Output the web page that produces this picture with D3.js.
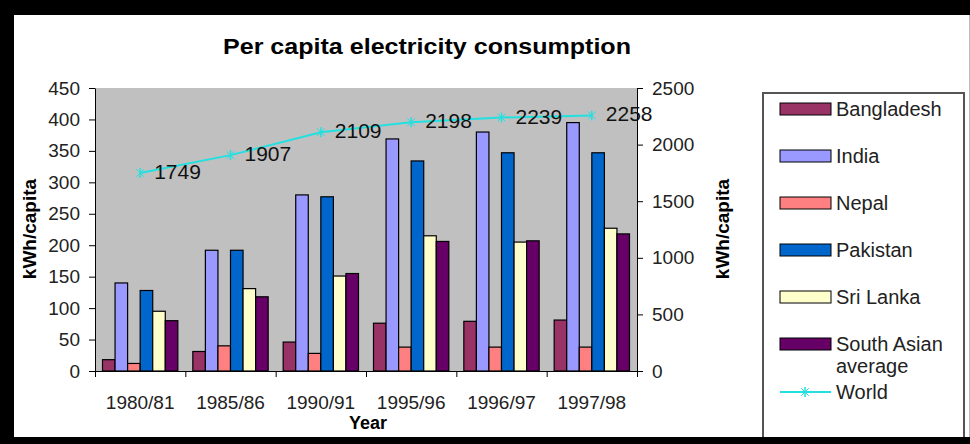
<!DOCTYPE html>
<html>
<head>
<meta charset="utf-8">
<script src="https://cdn.jsdelivr.net/npm/d3@7"></script>
<style>
  body { margin: 0; background: #fff; }
  svg { display: block; font-family: "Liberation Sans", Arial, sans-serif; }
</style>
</head>
<body>
<div class="chart"></div>
<script>
// data
const categories = ["1980/81", "1985/86", "1990/91", "1995/96", "1996/97", "1997/98"];
const seriesNames = ["Bangladesh", "India", "Nepal", "Pakistan", "Sri Lanka", "South Asian average"];
const bangladesh = [18, 31, 46, 76, 79, 81];
const india = [140, 192, 280, 369, 380, 395];
const nepal = [12, 40, 28, 38, 38, 38];
const pakistan = [128, 192, 277, 334, 347, 347];
const sriLanka = [95, 131, 151, 215, 205, 227];
const southAsian = [80, 118, 155, 206, 207, 218];
const world = [1749, 1907, 2109, 2198, 2239, 2258];
const leftTicks = [0, 50, 100, 150, 200, 250, 300, 350, 400, 450];
const rightTicks = [0, 500, 1000, 1500, 2000, 2500];

const seriesValues = [bangladesh, india, nepal, pakistan, sriLanka, southAsian];
const colors = ["#993366", "#9999FF", "#FF8080", "#0066CC", "#FFFFCC", "#660066"];
const worldColor = "#22E0E0";

const W = 970, H = 444;
const plot = { left: 95, right: 637, top: 88, bottom: 371 };
const font = 19;

const svg = d3.select(".chart")
    .append("svg")
    .attr("width", W)
    .attr("height", H);

// frame
svg.append("rect").attr("x", 0).attr("y", 0).attr("width", W).attr("height", H).attr("fill", "#fff");
svg.append("rect").attr("x", 0).attr("y", 0).attr("width", W).attr("height", 15).attr("fill", "#000");
svg.append("rect").attr("x", 0).attr("y", 0).attr("width", 14).attr("height", H).attr("fill", "#000");
svg.append("line").attr("x1", 969.5).attr("x2", 969.5).attr("y1", 15).attr("y2", 437)
    .attr("stroke", "#bbb");

// title
svg.append("text")
    .attr("x", 427).attr("y", 54)
    .attr("text-anchor", "middle")
    .attr("textLength", 408)
    .attr("lengthAdjust", "spacingAndGlyphs")
    .style("font-size", "22px")
    .style("font-weight", "bold")
    .text("Per capita electricity consumption");

// scales
const x0 = d3.scaleBand().domain(categories).range([plot.left, plot.right]);
const x1 = d3.scaleBand().domain(seriesNames).range([7.5, x0.bandwidth() - 7.5]);
const yLeft = d3.scaleLinear().domain([0, 450]).range([plot.bottom, plot.top]);
const yRight = d3.scaleLinear().domain([0, 2500]).range([plot.bottom, plot.top]);
const xEdge = d3.scaleLinear().domain([0, categories.length]).range([plot.left, plot.right]);

// plot background
svg.append("rect")
    .attr("x", plot.left).attr("y", plot.top)
    .attr("width", plot.right - plot.left).attr("height", plot.bottom - plot.top)
    .attr("fill", "#C0C0C0");

// bars
const barData = [];
seriesValues.forEach((vals, si) => {
    vals.forEach((v, ci) => barData.push({ s: seriesNames[si], c: categories[ci], v, color: colors[si] }));
});

svg.append("g")
    .selectAll("rect")
    .data(barData)
    .join("rect")
    .attr("x", d => x0(d.c) + x1(d.s))
    .attr("y", d => yLeft(d.v))
    .attr("width", x1.bandwidth())
    .attr("height", d => yLeft(0) - yLeft(d.v))
    .attr("fill", d => d.color)
    .attr("stroke", "#000")
    .attr("stroke-width", 1.2);

// axes
function styleAxis(g) {
    g.selectAll("path, line").attr("stroke", "#000");
    g.selectAll("text").style("font-size", font + "px").attr("fill", "#222");
}

svg.append("g")
    .attr("transform", `translate(${plot.left},0)`)
    .call(d3.axisLeft(yLeft).tickValues(leftTicks).tickSize(6).tickSizeOuter(0).tickPadding(9))
    .call(styleAxis);

svg.append("g")
    .attr("transform", `translate(${plot.right},0)`)
    .call(d3.axisRight(yRight).tickValues(rightTicks).tickFormat(d3.format("d"))
        .tickSize(6).tickSizeOuter(0).tickPadding(9))
    .call(styleAxis);

svg.append("g")
    .attr("transform", `translate(0,${plot.bottom})`)
    .call(d3.axisBottom(xEdge).ticks(categories.length).tickSize(6).tickSizeOuter(0).tickFormat(""))
    .call(styleAxis);

svg.append("g")
    .attr("transform", `translate(0,${plot.bottom})`)
    .call(d3.axisBottom(x0).tickSize(0).tickPadding(25))
    .call(g => g.select(".domain").remove())
    .call(styleAxis);

// axis titles
svg.append("text")
    .attr("transform", `translate(36,229) rotate(-90)`)
    .attr("text-anchor", "middle")
    .style("font-size", "19px")
    .style("font-weight", "bold")
    .text("kWh/capita");

svg.append("text")
    .attr("transform", `translate(729,229) rotate(-90)`)
    .attr("text-anchor", "middle")
    .style("font-size", "19px")
    .style("font-weight", "bold")
    .text("kWh/capita");

svg.append("text")
    .attr("x", 368).attr("y", 429)
    .attr("text-anchor", "middle")
    .style("font-size", "18px")
    .style("font-weight", "bold")
    .text("Year");

// world line
const worldPts = categories.map((c, i) => ({ c, v: world[i] }));
const line = d3.line()
    .x(d => x0(d.c) + x0.bandwidth() / 2)
    .y(d => yRight(d.v));

svg.append("path")
    .datum(worldPts)
    .attr("d", line)
    .attr("fill", "none")
    .attr("stroke", worldColor)
    .attr("stroke-width", 2);

const marker = d3.symbol().type(d3.symbolTimes).size(40);
const mk = svg.append("g")
    .selectAll("g")
    .data(worldPts)
    .join("g")
    .attr("transform", d => `translate(${x0(d.c) + x0.bandwidth() / 2},${yRight(d.v)})`);
mk.append("path").attr("d", marker).attr("fill", worldColor).attr("stroke", worldColor);
mk.append("line").attr("y1", -5).attr("y2", 5).attr("stroke", worldColor).attr("stroke-width", 1.5);

svg.append("g")
    .selectAll("text")
    .data(worldPts)
    .join("text")
    .attr("x", d => x0(d.c) + x0.bandwidth() / 2 + 14)
    .attr("y", d => yRight(d.v) + 6)
    .style("font-size", "21px")
    .attr("fill", "#111")
    .text(d => d.v);

// legend
const legend = svg.append("g");
legend.append("rect")
    .attr("x", 763).attr("y", 93)
    .attr("width", 201).attr("height", 360)
    .attr("fill", "#fff")
    .attr("stroke", "#555")
    .attr("stroke-width", 2);

const rowY = d3.scaleLinear().domain([0, 1]).range([109, 156]);

const items = legend.selectAll("g.item")
    .data(seriesNames)
    .join("g")
    .attr("class", "item")
    .attr("transform", (d, i) => `translate(0,${rowY(i)})`);

items.append("rect")
    .attr("x", 780).attr("y", -6)
    .attr("width", 51).attr("height", 12)
    .attr("fill", (d, i) => colors[i])
    .attr("stroke", "#000");

items.append("text")
    .attr("x", 836).attr("y", 7)
    .style("font-size", "20px")
    .attr("fill", "#222")
    .each(function (d) {
        const t = d3.select(this);
        if (d === "South Asian average") {
            t.append("tspan").attr("x", 836).text("South Asian");
            t.append("tspan").attr("x", 836).attr("dy", 22).text("average");
        } else {
            t.text(d);
        }
    });

const wY = 392;
legend.append("line")
    .attr("x1", 780).attr("x2", 831).attr("y1", wY).attr("y2", wY)
    .attr("stroke", worldColor).attr("stroke-width", 2);
legend.append("path")
    .attr("transform", `translate(805,${wY})`)
    .attr("d", marker).attr("fill", worldColor).attr("stroke", worldColor);
legend.append("line")
    .attr("x1", 805).attr("x2", 805).attr("y1", wY - 5).attr("y2", wY + 5)
    .attr("stroke", worldColor).attr("stroke-width", 1.5);
legend.append("text")
    .attr("x", 836).attr("y", wY + 7)
    .style("font-size", "20px")
    .attr("fill", "#222")
    .text("World");

// black bottom edge drawn last so it covers the legend box
svg.append("rect").attr("x", 0).attr("y", 437).attr("width", W).attr("height", 7).attr("fill", "#000");
</script>
</body>
</html>
